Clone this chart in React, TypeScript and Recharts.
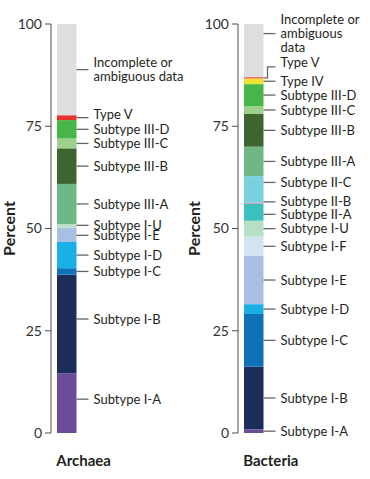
import React from 'react';
import { BarChart, Bar, XAxis, YAxis, LabelList } from 'recharts';

const archaeaTypes = [
  'Subtype I-A', 'Subtype I-B', 'Subtype I-C', 'Subtype I-D', 'Subtype I-E', 'Subtype I-U',
  'Subtype III-A', 'Subtype III-B', 'Subtype III-C', 'Subtype III-D', 'Type V',
  'Incomplete or ambiguous data',
];
const archaeaValues = [14.6, 24.1, 1.6, 6.4, 3.5, 0.9, 9.8, 8.7, 2.4, 4.5, 1.2, 22.3];

const bacteriaTypes = [
  'Subtype I-A', 'Subtype I-B', 'Subtype I-C', 'Subtype I-D', 'Subtype I-E', 'Subtype I-F',
  'Subtype I-U', 'Subtype II-A', 'Subtype II-B', 'Subtype II-C', 'Subtype III-A',
  'Subtype III-B', 'Subtype III-C', 'Subtype III-D', 'Type IV', 'Type V',
  'Incomplete or ambiguous data',
];
const bacteriaValues = [0.9, 15.3, 12.9, 2.4, 11.8, 4.7, 3.9, 4.1, 0.3, 6.5, 7.2, 8.0, 1.95, 5.35, 1.4, 0.3, 13.0];

const percentTicks = [0, 25, 50, 75, 100];

const colors: Record<string, string> = {
  'Subtype I-A': '#6b4c9a',
  'Subtype I-B': '#1c2d59',
  'Subtype I-C': '#0f72b8',
  'Subtype I-D': '#1bb0e5',
  'Subtype I-E': '#a8bee3',
  'Subtype I-F': '#d2e4f3',
  'Subtype I-U': '#b6dfc4',
  'Subtype II-A': '#3bc0c0',
  'Subtype II-B': '#d59bc0',
  'Subtype II-C': '#7bd0de',
  'Subtype III-A': '#6fb785',
  'Subtype III-B': '#3e6530',
  'Subtype III-C': '#9dd28d',
  'Subtype III-D': '#46b649',
  'Type IV': '#efe432',
  'Type V': '#e8322c',
  'Incomplete or ambiguous data': '#dedede',
};

const FONT = 'Lato, "Open Sans", sans-serif';
const TEXT = '#231f20';
const AXIS = '#4d4d4d';
const BAR = 19.5;

// label tweaks, in pixels (hand placement in the original figure)
type LabelOpt = { dy?: number; textDy?: number; elbow?: boolean; lines?: string[] };

const archaeaLabelOpts: Record<string, LabelOpt> = {
  'Subtype I-A': { dy: -4 },
  'Subtype I-B': { dy: -5 },
  'Subtype I-U': { dy: -0.5 },
  'Subtype I-E': { dy: 0.5 },
  'Type V': { textDy: -3 },
  'Incomplete or ambiguous data': { lines: ['Incomplete or', 'ambiguous data'] },
};

const bacteriaLabelOpts: Record<string, LabelOpt> = {
  'Subtype II-A': { dy: 2 },
  'Subtype II-B': { dy: -1.5 },
  'Subtype II-C': { dy: -7 },
  'Type V': { elbow: true, dy: -11, textDy: -4 },
  'Incomplete or ambiguous data': { dy: -17, lines: ['Incomplete or', 'ambiguous', 'data'] },
};

const makeRow = (name: string, types: string[], values: number[]) => {
  const row: Record<string, string | number> = { name };
  types.forEach((t, i) => (row[t] = values[i]));
  return [row];
};

const SegmentLabel = (name: string, opt: LabelOpt) => (props: any) => {
  const { x, y, width, height } = props;
  const x0 = Number(x) + Number(width);
  const cy = Number(y) + Number(height) / 2;
  const ly = cy + (opt.dy || 0);
  const lines = opt.lines || [name];
  const ty = ly + (opt.textDy || 0);
  const lh = 14;
  const startY = ty - ((lines.length - 1) * lh) / 2 + 4.6;
  const path = opt.elbow
    ? `M${x0},${cy}H${x0 + 4}V${ly}H${x0 + 12}`
    : `M${x0},${ly}H${x0 + 12}`;
  return (
    <g>
      <path d={path} fill="none" stroke="#666" strokeWidth={1.3} />
      <text x={x0 + 17} y={startY} fontSize={13} fontFamily={FONT} fill={TEXT}>
        {lines.map((l, i) => (
          <tspan key={i} x={x0 + 17} y={startY + i * lh}>{l}</tspan>
        ))}
      </text>
    </g>
  );
};

const PercentLabel = (props: any) => {
  const vb = props.viewBox || {};
  const cx = vb.x + 8;
  const cy = vb.y + vb.height / 2;
  return (
    <text x={cx} y={cy} transform={`rotate(-90, ${cx}, ${cy})`} textAnchor="middle"
      dominantBaseline="central" fontSize={16} fontWeight={700} fontFamily={FONT} fill={TEXT}>
      Percent
    </text>
  );
};

const CategoryTick = (props: any) => {
  const { x, y, payload } = props;
  return (
    <text x={x - BAR / 2 - 0.5} y={y + 25} fontSize={15} fontWeight={700} fontFamily={FONT} fill={TEXT}>
      {payload.value}
    </text>
  );
};

type StackProps = {
  name: string;
  types: string[];
  values: number[];
  opts: Record<string, LabelOpt>;
  width: number;
  axisWidth: number;
  left: number;
};

const StackChart = ({ name, types, values, opts, width, axisWidth, left }: StackProps) => {
  const data = makeRow(name, types, values);
  const plotW = 31;
  return (
    <div style={{ position: 'absolute', left, top: 0 }}>
      <BarChart width={width} height={479} data={data}
        margin={{ top: 24, right: width - axisWidth - plotW, bottom: 0, left: 0 }}
        style={{ overflow: 'visible' }}>
        <XAxis dataKey="name" height={46} axisLine={false} tickLine={false} tick={<CategoryTick />} />
        <YAxis type="number" domain={[0, 100]} ticks={percentTicks} width={axisWidth}
          tickSize={6} tickMargin={3} stroke={AXIS} interval={0}
          tick={{ fill: '#333', fontSize: 14, fontFamily: FONT }}
          label={<PercentLabel />} />
        {types.map((t) => (
          <Bar key={t} dataKey={t} stackId="s" fill={colors[t]} barSize={BAR} isAnimationActive={false}>
            <LabelList dataKey={t} content={SegmentLabel(t, opts[t] || {})} />
          </Bar>
        ))}
      </BarChart>
    </div>
  );
};

export default function App() {
  return (
    <div style={{ position: 'absolute', left: 0, top: 0, width: 370, height: 479, background: '#fff' }}>
      <StackChart name="Archaea" types={archaeaTypes} values={archaeaValues} opts={archaeaLabelOpts}
        width={200} axisWidth={51} left={0} />
      <StackChart name="Bacteria" types={bacteriaTypes} values={bacteriaValues} opts={bacteriaLabelOpts}
        width={185} axisWidth={53} left={185} />
    </div>
  );
}
